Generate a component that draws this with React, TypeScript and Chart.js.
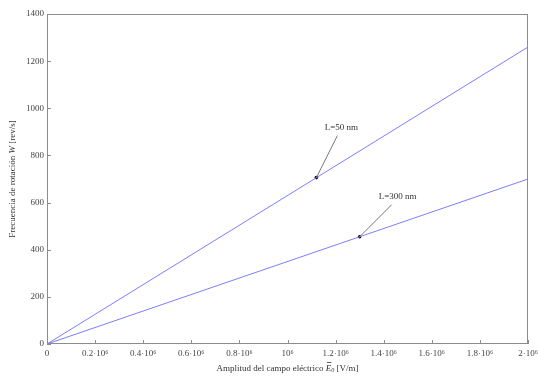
import React, { useEffect, useRef } from "react";
import { Chart, registerables } from "chart.js";

Chart.register(...registerables);

const xRange = [0, 2000000];
const line50 = [0, 1260];
const line300 = [0, 700];
const marker50 = [1120000, 706];
const marker300 = [1300000, 455];
const xTickLabels = ["0", "0.2·10⁶", "0.4·10⁶", "0.6·10⁶", "0.8·10⁶", "10⁶", "1.2·10⁶", "1.4·10⁶", "1.6·10⁶", "1.8·10⁶", "2·10⁶"];
const yTickLabels = ["0", "200", "400", "600", "800", "1000", "1200", "1400"];
const labelTexts = ["L=50 nm", "L=300 nm"];

const SERIF = "'Liberation Serif', 'DejaVu Serif', serif";

const decorPlugin = {
  id: "decor",
  afterDatasetsDraw(chart: any) {
    const ctx = chart.ctx;
    const a = chart.chartArea;
    const xs = chart.scales.x;
    const ys = chart.scales.y;
    ctx.save();
    ctx.strokeStyle = "#8c8c8c";
    ctx.lineWidth = 1;
    ctx.strokeRect(Math.round(a.left) + 0.5, Math.round(a.top) + 0.5, Math.round(a.right - a.left) - 1, Math.round(a.bottom - a.top) - 1);
    ctx.beginPath();
    xs.ticks.forEach((t: any) => {
      const px = Math.round(xs.getPixelForValue(t.value)) + 0.5;
      ctx.moveTo(px, a.bottom);
      ctx.lineTo(px, a.bottom - 4);
    });
    ys.ticks.forEach((t: any) => {
      const py = Math.round(ys.getPixelForValue(t.value)) + 0.5;
      ctx.moveTo(a.left, py);
      ctx.lineTo(a.left + 4, py);
    });
    ctx.stroke();
    const anns = [
      { pt: marker50, text: labelTexts[0], dx: 21, dy: -42, tx: 25, ty: -50 },
      { pt: marker300, text: labelTexts[1], dx: 32, dy: -32, tx: 38, ty: -40 },
    ];
    ctx.font = `9px ${SERIF}`;
    ctx.textAlign = "center";
    ctx.textBaseline = "middle";
    anns.forEach((an) => {
      const px = xs.getPixelForValue(an.pt[0]);
      const py = ys.getPixelForValue(an.pt[1]);
      ctx.strokeStyle = "#777";
      ctx.beginPath();
      ctx.moveTo(px, py);
      ctx.lineTo(px + an.dx, py + an.dy);
      ctx.stroke();
      ctx.fillStyle = "#333";
      ctx.fillText(an.text, px + an.tx, py + an.ty);
    });
    ctx.fillStyle = "#333";
    ctx.textBaseline = "alphabetic";
    const drawSegs = (segs: any[], cx: number, cy: number) => {
      let total = 0;
      segs.forEach((s) => {
        ctx.font = s.font;
        total += ctx.measureText(s.t).width;
      });
      let x = cx - total / 2;
      ctx.textAlign = "left";
      segs.forEach((s) => {
        ctx.font = s.font;
        ctx.fillText(s.t, x, cy + (s.dy || 0));
        const w = ctx.measureText(s.t).width;
        if (s.bar) {
          ctx.strokeStyle = "#333";
          ctx.lineWidth = 0.8;
          ctx.beginPath();
          ctx.moveTo(x + 1, cy - 8.5);
          ctx.lineTo(x + w, cy - 8.5);
          ctx.stroke();
        }
        x += w;
      });
    };
    const f = `9px ${SERIF}`;
    const fi = `italic 9px ${SERIF}`;
    drawSegs(
      [
        { t: "Amplitud del campo eléctrico ", font: f },
        { t: "E", font: fi, bar: true },
        { t: "0", font: `italic 6px ${SERIF}`, dy: 1 },
        { t: " [V/m]", font: f },
      ],
      (a.left + a.right) / 2,
      371
    );
    ctx.save();
    ctx.translate(15, (a.top + a.bottom) / 2);
    ctx.rotate(-Math.PI / 2);
    drawSegs(
      [
        { t: "Frecuencia de rotación ", font: f },
        { t: "W", font: fi },
        { t: " [rev/s]", font: f },
      ],
      0,
      0
    );
    ctx.restore();
    ctx.restore();
  },
};

export default function App() {
  const ref = useRef<HTMLCanvasElement>(null);
  useEffect(() => {
    document.body.style.margin = "0";
    const chart = new Chart(ref.current!, {
      type: "line",
      data: {
        datasets: [
          {
            label: labelTexts[0],
            data: xRange.map((x, i) => ({ x, y: line50[i] })),
            borderColor: "rgb(125,125,255)",
            borderWidth: 1,
            pointRadius: 0,
          },
          {
            label: labelTexts[1],
            data: xRange.map((x, i) => ({ x, y: line300[i] })),
            borderColor: "rgb(125,125,255)",
            borderWidth: 1,
            pointRadius: 0,
          },
          {
            label: "markers",
            data: [
              { x: marker50[0], y: marker50[1] },
              { x: marker300[0], y: marker300[1] },
            ],
            showLine: false,
            pointRadius: 1.8,
            pointBackgroundColor: "#000",
            pointBorderColor: "#000",
            borderWidth: 0,
          },
        ],
      },
      options: {
        animation: false,
        responsive: false,
        layout: { padding: { top: 14, right: 10, left: 0, bottom: 0 } },
        plugins: { legend: { display: false }, tooltip: { enabled: false } },
        scales: {
          x: {
            type: "linear",
            min: 0,
            max: 2000000,
            grid: { display: false, drawTicks: false },
            border: { display: false },
            afterFit: (s: any) => {
              s.height = 35;
              s.paddingLeft = 0;
              s.paddingRight = 0;
            },
            ticks: {
              stepSize: 200000,
              padding: 4,
              maxRotation: 0,
              autoSkip: false,
              color: "#444",
              font: { family: SERIF, size: 9 },
              callback: (_v: any, i: number) => xTickLabels[i],
            },
          },
          y: {
            min: 0,
            max: 1400,
            grid: { display: false, drawTicks: false },
            border: { display: false },
            afterFit: (s: any) => {
              s.width = 47;
              s.paddingTop = 0;
              s.paddingBottom = 0;
            },
            ticks: {
              stepSize: 200,
              padding: 3,
              autoSkip: false,
              color: "#444",
              font: { family: SERIF, size: 9 },
              callback: (_v: any, i: number) => yTickLabels[i],
            },
          },
        },
      },
      plugins: [decorPlugin],
    });
    return () => chart.destroy();
  }, []);
  return (
    <div style={{ width: 538, height: 379, background: "#fff" }}>
      <canvas ref={ref} width={538} height={379} />
    </div>
  );
}
